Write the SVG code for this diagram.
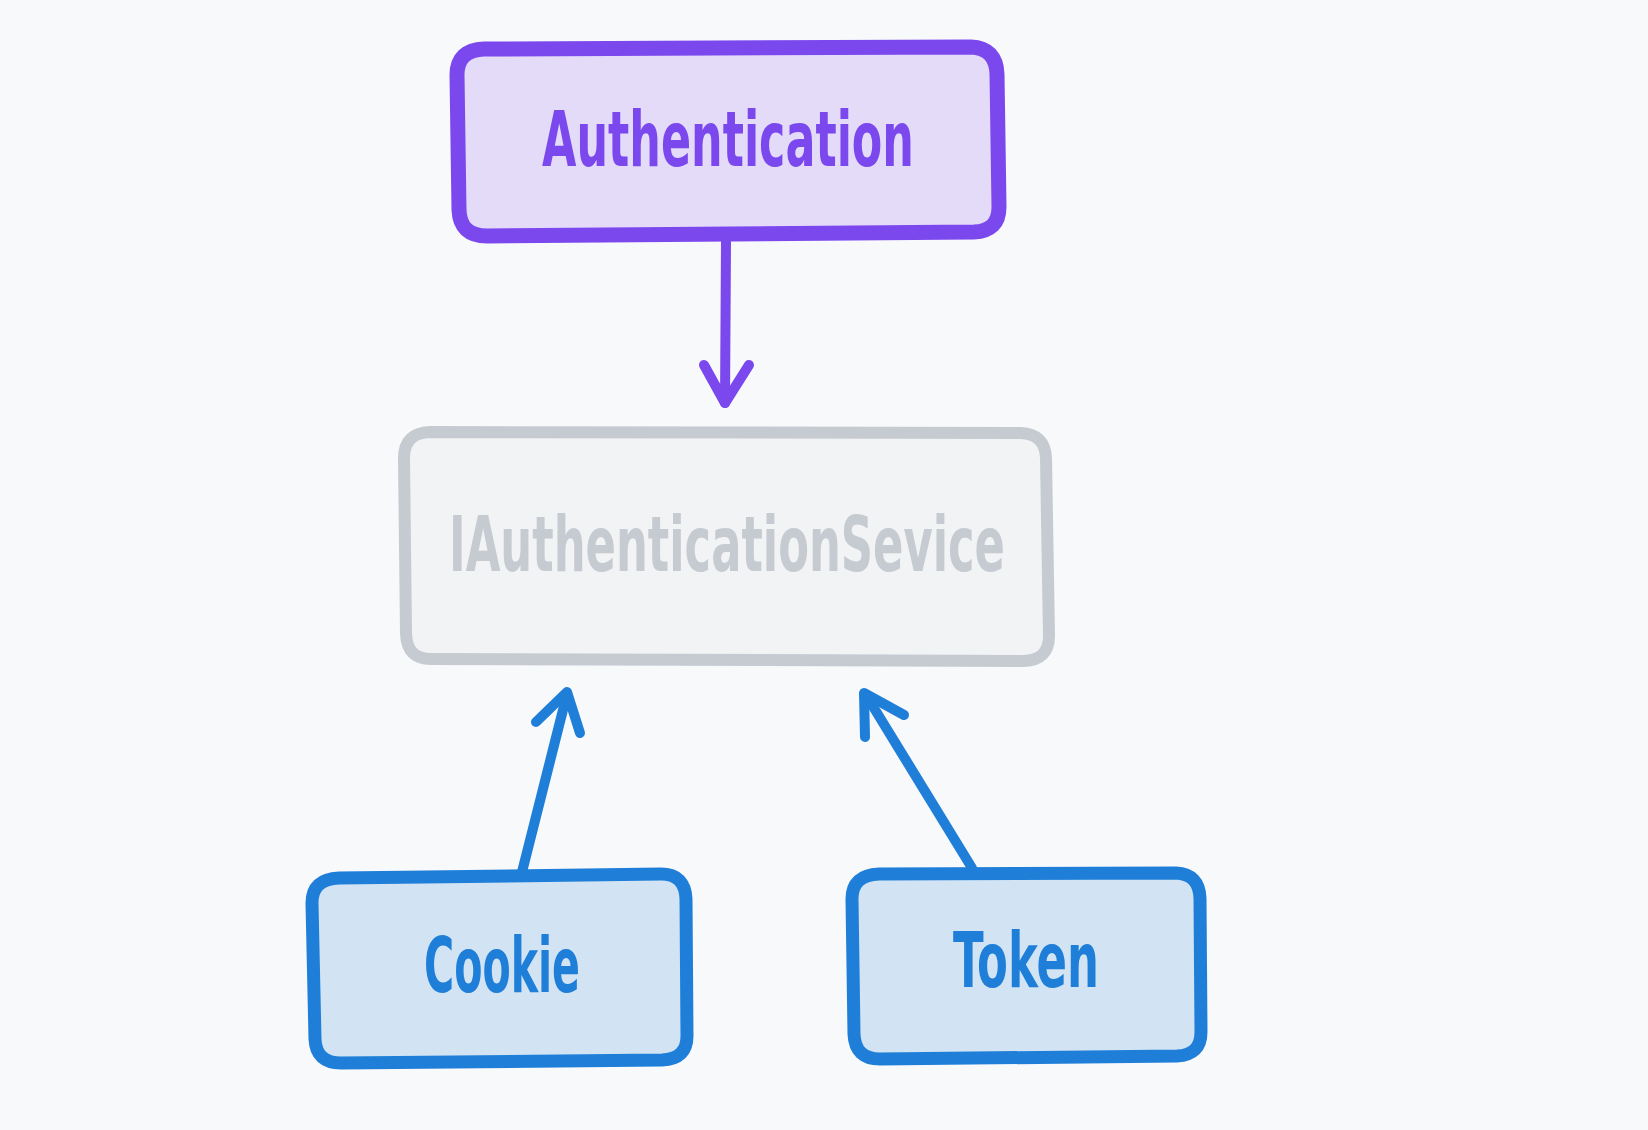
<svg xmlns="http://www.w3.org/2000/svg" width="1648" height="1130" viewBox="0 0 1648 1130">
  <style>
    .lbl { font-family: "DejaVu Sans Condensed", "DejaVu Sans", sans-serif; font-weight: bold; font-size: 76px; text-anchor: middle; }
    .purple { stroke: #7b48ee; }
    .blue { stroke: #1f7fd8; }
    .box { stroke-width: 15; stroke-linejoin: round; }
    .conn { fill: none; stroke-width: 10; stroke-linecap: round; stroke-linejoin: round; }
  </style>
  <rect width="1648" height="1130" fill="#f8f9fb"/>
  <g id="connectors">
    <path class="conn purple" d="M 726 242 L 725 403"/>
    <path class="conn purple" d="M 704 365 L 725 403 L 749 365"/>
    <path class="conn blue" d="M 522 872 L 567 694"/>
    <path class="conn blue" d="M 536 722 L 567 692 L 580 733"/>
    <path class="conn blue" d="M 972 868 L 866 695"/>
    <path class="conn blue" d="M 865 737 L 864 693 L 904 715"/>
  </g>
  <g id="node-authentication">
    <path class="box purple" fill="#e4dbf9" d="M 484 49 L 971 47 Q 996 48 997 74 L 999 207 Q 999 231 974 232 L 487 236 Q 460 236 459 210 L 457 75 Q 457 50 484 49 Z"/>
    <text class="lbl" x="728" y="166" fill="#7b48ee" textLength="372" lengthAdjust="spacingAndGlyphs">Authentication</text>
  </g>
  <g id="node-iauthenticationservice">
    <path class="box" stroke="#c6cbd2" style="stroke-width:12" fill="#f1f3f5" d="M 430 432 L 1021 433 Q 1045 434 1046 458 L 1049 636 Q 1049 660 1024 661 L 431 659 Q 407 659 406 634 L 404 458 Q 404 433 430 432 Z"/>
    <text class="lbl" x="727" y="571" fill="#c6cbd2" textLength="556" lengthAdjust="spacingAndGlyphs">IAuthenticationSevice</text>
  </g>
  <g id="node-cookie">
    <path class="box blue" style="stroke-width:13" fill="#d2e4f4" d="M 339 878 L 661 874 Q 685 874 686 899 L 687 1036 Q 687 1059 662 1060 L 341 1063 Q 316 1063 315 1039 L 312 903 Q 312 879 339 878 Z"/>
    <text class="lbl" x="502" y="992" fill="#1f7fd8" textLength="156" lengthAdjust="spacingAndGlyphs">Cookie</text>
  </g>
  <g id="node-token">
    <path class="box blue" style="stroke-width:13" fill="#d2e4f4" d="M 879 874 L 1176 873 Q 1199 874 1200 898 L 1201 1032 Q 1201 1055 1177 1056 L 880 1059 Q 855 1059 854 1034 L 852 899 Q 852 875 879 874 Z"/>
    <text class="lbl" x="1026" y="987" fill="#1f7fd8" textLength="146" lengthAdjust="spacingAndGlyphs">Token</text>
  </g>
</svg>
